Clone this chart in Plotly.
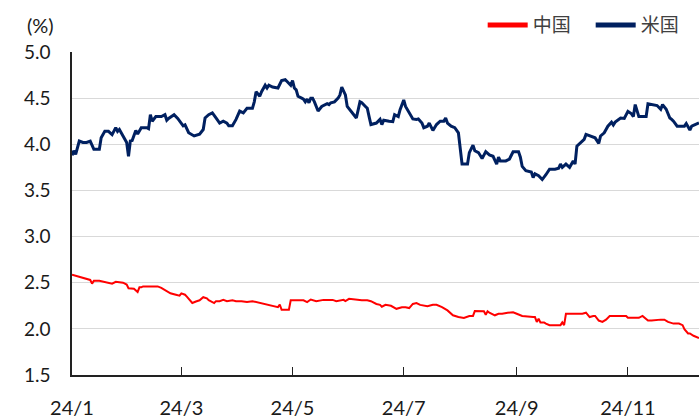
import plotly.graph_objects as go

us_dates = ["2024-01-01","2024-01-02","2024-01-03","2024-01-05","2024-01-07","2024-01-09","2024-01-11","2024-01-13","2024-01-16","2024-01-17","2024-01-19","2024-01-21","2024-01-23","2024-01-25","2024-01-26","2024-01-27","2024-01-29","2024-01-31","2024-02-01","2024-02-02","2024-02-03","2024-02-05","2024-02-06","2024-02-08","2024-02-11","2024-02-12","2024-02-13","2024-02-14","2024-02-16","2024-02-19","2024-02-21","2024-02-22","2024-02-23","2024-02-26","2024-02-28","2024-03-02","2024-03-03","2024-03-05","2024-03-08","2024-03-11","2024-03-13","2024-03-14","2024-03-16","2024-03-18","2024-03-20","2024-03-22","2024-03-24","2024-03-26","2024-03-27","2024-03-29","2024-03-31","2024-04-02","2024-04-04","2024-04-06","2024-04-09","2024-04-10","2024-04-11","2024-04-12","2024-04-13","2024-04-14","2024-04-16","2024-04-17","2024-04-18","2024-04-20","2024-04-23","2024-04-25","2024-04-27","2024-04-28","2024-04-30","2024-05-01","2024-05-02","2024-05-03","2024-05-04","2024-05-06","2024-05-07","2024-05-08","2024-05-09","2024-05-10","2024-05-11","2024-05-12","2024-05-13","2024-05-15","2024-05-17","2024-05-20","2024-05-21","2024-05-22","2024-05-24","2024-05-26","2024-05-27","2024-05-28","2024-05-30","2024-05-31","2024-06-02","2024-06-04","2024-06-05","2024-06-07","2024-06-08","2024-06-10","2024-06-11","2024-06-12","2024-06-13","2024-06-16","2024-06-18","2024-06-19","2024-06-20","2024-06-23","2024-06-25","2024-06-26","2024-06-28","2024-06-29","2024-07-01","2024-07-02","2024-07-04","2024-07-06","2024-07-08","2024-07-09","2024-07-11","2024-07-12","2024-07-14","2024-07-15","2024-07-17","2024-07-19","2024-07-21","2024-07-23","2024-07-24","2024-07-25","2024-07-27","2024-07-29","2024-07-31","2024-08-01","2024-08-02","2024-08-05","2024-08-06","2024-08-08","2024-08-09","2024-08-11","2024-08-13","2024-08-15","2024-08-17","2024-08-19","2024-08-20","2024-08-21","2024-08-22","2024-08-23","2024-08-26","2024-08-28","2024-08-30","2024-09-02","2024-09-03","2024-09-04","2024-09-06","2024-09-09","2024-09-10","2024-09-11","2024-09-13","2024-09-15","2024-09-17","2024-09-19","2024-09-22","2024-09-24","2024-09-25","2024-09-26","2024-09-28","2024-09-30","2024-10-02","2024-10-03","2024-10-04","2024-10-06","2024-10-08","2024-10-09","2024-10-12","2024-10-14","2024-10-16","2024-10-17","2024-10-19","2024-10-21","2024-10-23","2024-10-24","2024-10-25","2024-10-28","2024-10-30","2024-11-01","2024-11-03","2024-11-04","2024-11-05","2024-11-07","2024-11-09","2024-11-11","2024-11-12","2024-11-14","2024-11-17","2024-11-19","2024-11-20","2024-11-22","2024-11-24","2024-11-25","2024-11-26","2024-11-28","2024-12-02","2024-12-03","2024-12-04","2024-12-05","2024-12-06","2024-12-10"]
us_values = [3.88,3.93,3.89,4.035,4.02,4.02,4.035,3.945,3.945,4.07,4.14,4.14,4.105,4.18,4.14,4.16,4.09,4.02,3.87,4.035,4.04,4.15,4.11,4.18,4.18,4.17,4.32,4.25,4.30,4.30,4.32,4.26,4.28,4.32,4.28,4.20,4.21,4.125,4.09,4.11,4.16,4.285,4.32,4.34,4.285,4.23,4.25,4.23,4.20,4.20,4.27,4.36,4.34,4.39,4.39,4.46,4.57,4.55,4.52,4.57,4.64,4.61,4.64,4.62,4.61,4.69,4.70,4.68,4.64,4.69,4.61,4.59,4.52,4.50,4.49,4.46,4.49,4.45,4.50,4.50,4.46,4.36,4.41,4.44,4.43,4.45,4.46,4.50,4.535,4.62,4.535,4.41,4.36,4.30,4.285,4.46,4.45,4.41,4.39,4.30,4.214,4.23,4.27,4.214,4.26,4.25,4.245,4.32,4.30,4.375,4.48,4.41,4.34,4.275,4.27,4.275,4.23,4.18,4.196,4.23,4.15,4.214,4.25,4.25,4.285,4.23,4.196,4.18,4.125,3.98,3.786,3.786,3.91,3.99,3.93,3.91,3.845,3.92,3.885,3.87,3.82,3.786,3.86,3.82,3.82,3.84,3.918,3.918,3.86,3.76,3.714,3.70,3.64,3.68,3.66,3.618,3.67,3.73,3.73,3.74,3.786,3.75,3.786,3.75,3.82,3.786,3.98,4.02,4.054,4.107,4.08,4.07,4.01,4.09,4.125,4.196,4.24,4.21,4.24,4.285,4.28,4.357,4.33,4.30,4.43,4.30,4.30,4.30,4.44,4.43,4.42,4.38,4.43,4.38,4.285,4.27,4.25,4.196,4.196,4.225,4.18,4.155,4.196,4.232]

cn_dates = ["2024-01-01","2024-01-03","2024-01-06","2024-01-09","2024-01-11","2024-01-12","2024-01-13","2024-01-16","2024-01-20","2024-01-23","2024-01-25","2024-01-27","2024-01-29","2024-01-31","2024-02-01","2024-02-04","2024-02-05","2024-02-06","2024-02-07","2024-02-08","2024-02-09","2024-02-12","2024-02-17","2024-02-19","2024-02-22","2024-02-24","2024-02-27","2024-02-29","2024-03-01","2024-03-03","2024-03-04","2024-03-06","2024-03-07","2024-03-09","2024-03-11","2024-03-13","2024-03-15","2024-03-16","2024-03-19","2024-03-20","2024-03-22","2024-03-24","2024-03-26","2024-03-29","2024-03-31","2024-04-03","2024-04-06","2024-04-09","2024-04-11","2024-04-13","2024-04-17","2024-04-20","2024-04-23","2024-04-24","2024-04-25","2024-04-29","2024-04-30","2024-05-03","2024-05-07","2024-05-09","2024-05-11","2024-05-14","2024-05-18","2024-05-23","2024-05-25","2024-05-29","2024-05-30","2024-06-01","2024-06-05","2024-06-08","2024-06-11","2024-06-13","2024-06-16","2024-06-18","2024-06-19","2024-06-21","2024-06-24","2024-06-27","2024-06-30","2024-07-02","2024-07-04","2024-07-06","2024-07-08","2024-07-10","2024-07-14","2024-07-17","2024-07-19","2024-07-22","2024-07-25","2024-07-28","2024-07-31","2024-08-03","2024-08-06","2024-08-08","2024-08-09","2024-08-11","2024-08-14","2024-08-15","2024-08-16","2024-08-17","2024-08-19","2024-08-20","2024-08-22","2024-08-24","2024-08-27","2024-08-30","2024-09-01","2024-09-04","2024-09-10","2024-09-11","2024-09-12","2024-09-13","2024-09-14","2024-09-16","2024-09-17","2024-09-19","2024-09-22","2024-09-25","2024-09-26","2024-09-27","2024-09-28","2024-09-30","2024-10-04","2024-10-07","2024-10-09","2024-10-11","2024-10-13","2024-10-14","2024-10-16","2024-10-18","2024-10-20","2024-10-22","2024-10-25","2024-10-31","2024-11-01","2024-11-07","2024-11-09","2024-11-12","2024-11-14","2024-11-17","2024-11-19","2024-11-21","2024-11-23","2024-11-26","2024-11-29","2024-12-01","2024-12-02","2024-12-04","2024-12-05","2024-12-07","2024-12-10"]
cn_values = [2.586,2.575,2.557,2.54,2.53,2.49,2.52,2.52,2.503,2.49,2.51,2.503,2.50,2.48,2.44,2.435,2.42,2.40,2.45,2.45,2.46,2.46,2.46,2.445,2.407,2.385,2.37,2.36,2.385,2.37,2.35,2.31,2.28,2.296,2.31,2.343,2.33,2.31,2.28,2.30,2.30,2.314,2.30,2.31,2.30,2.30,2.29,2.30,2.29,2.28,2.264,2.246,2.235,2.264,2.207,2.207,2.31,2.31,2.31,2.29,2.318,2.30,2.314,2.314,2.30,2.314,2.30,2.325,2.314,2.31,2.31,2.30,2.27,2.26,2.24,2.26,2.25,2.217,2.235,2.235,2.225,2.27,2.28,2.26,2.246,2.26,2.26,2.235,2.20,2.147,2.128,2.118,2.14,2.14,2.193,2.193,2.19,2.153,2.19,2.175,2.153,2.147,2.164,2.164,2.175,2.18,2.164,2.14,2.128,2.128,2.075,2.11,2.07,2.07,2.057,2.04,2.04,2.04,2.07,2.04,2.164,2.164,2.164,2.164,2.175,2.128,2.14,2.14,2.09,2.075,2.10,2.14,2.14,2.14,2.12,2.12,2.14,2.09,2.09,2.10,2.10,2.10,2.075,2.057,2.057,2.04,1.997,1.95,1.95,1.925,1.90]

tick_dates = ["2024-01-01","2024-03-01","2024-05-01","2024-07-01","2024-09-01","2024-11-01"]
tick_labels = ["24/1","24/3","24/5","24/7","24/9","24/11"]
y_ticks = [1.5,2.0,2.5,3.0,3.5,4.0,4.5,5.0]

fig = go.Figure()
fig.add_trace(go.Scatter(x=cn_dates, y=cn_values, mode="lines", name="中国",
                         line=dict(color="#FF0000", width=2)))
fig.add_trace(go.Scatter(x=us_dates, y=us_values, mode="lines", name="米国",
                         line=dict(color="#002060", width=3)))

font_main = "Lato, 'Noto Sans CJK JP', sans-serif"
fig.update_layout(
    width=699, height=419,
    margin=dict(l=72, r=0, t=52, b=40),
    paper_bgcolor="white", plot_bgcolor="white",
    font=dict(family=font_main, size=19, color="#1a1a1a"),
    showlegend=True,
    legend=dict(orientation="h", x=0.655, xanchor="left", y=1.083, yanchor="middle",
                font=dict(family="'Noto Sans CJK JP', sans-serif", size=19, color="#404040"),
                itemwidth=40, entrywidth=53, bgcolor="rgba(0,0,0,0)", itemsizing="constant"),
    xaxis=dict(type="date", range=["2024-01-01", "2024-12-10"],
               tickvals=tick_dates, ticktext=tick_labels,
               showgrid=False, zeroline=False,
               showline=True, linecolor="#222222", linewidth=1.5,
               ticks="inside", ticklen=8, tickcolor="#222222", tickwidth=1,
               ticklabelstandoff=14, tickfont=dict(size=20)),
    yaxis=dict(range=[1.5, 5.0], tickvals=y_ticks, tickformat=".1f",
               showgrid=True, gridcolor="#d9d9d9", gridwidth=1,
               zeroline=False, showline=True, linecolor="#222222", linewidth=1.5,
               ticks="", ticklabelstandoff=16, tickfont=dict(size=19)),
    annotations=[dict(text="(%)", xref="paper", yref="paper", x=-0.026, y=1.083,
                      xanchor="right", yanchor="middle", showarrow=False,
                      font=dict(size=20, color="#1a1a1a"))],
)
fig.write_html("out.html", config={"displayModeBar": False},
               post_script="document.body.style.margin='0';document.body.style.overflow='hidden';")
